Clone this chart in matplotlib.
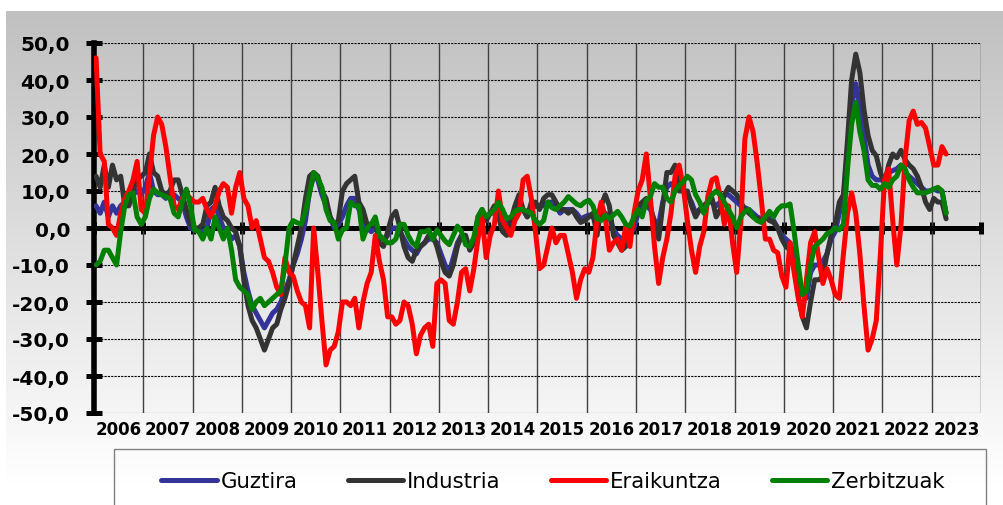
import numpy as np
import matplotlib
matplotlib.use("Agg")
import matplotlib.pyplot as plt
from matplotlib.colors import LinearSegmentedColormap
from matplotlib.patches import Rectangle

# monthly series, Jan 2006 .. Apr 2023 (one row per year)
guztira = [
    6, 4, 7, 3, 6, 4, 6, 7, 8, 9, 10, 9,
    11, 15, 10, 9, 9, 8, 9, 9, 8, 7, 3, 0,
    -0.5, -0.5, -1, 0, 5, 6, 3, 0, -1, -3, -2, -5,
    -12, -17, -21, -23, -25, -27, -25, -23, -22, -20, -17, -14,
    -10, -7, -3, 2, 10, 14, 13, 9, 6, 3, 0, 1,
    3, 6, 8, 8, 5, 3, 0, -1, 0, -2, -3, -2,
    0, 0, -1, -3, -5, -6, -7, -5, -4, -3, -3, -4,
    -7, -10, -12, -8, -4, -2, -3, -5, -3, 2, 4, 3,
    4, 4, 5, 3, 1, 2, 4, 6, 5, 3, 5, 6,
    6, 6, 7, 7, 6, 4, 5, 5, 5, 4, 2.5, 3,
    3.5, 3, 1, 4, 4, 3, -0.5, -2, -3, -3, -2, 0,
    4, 5.5, 6, 5, 2, 1, 7, 11, 12, 11, 12, 10,
    9, 7, 4, 5, 6, 7, 7, 6, 7, 9, 9, 8,
    7, 6, 5.5, 5, 4, 3, 2.5, 3, 3, 2, 0, -2,
    -3, -4, -8, -14, -18, -19, -12, -10, -10, -9, -7, -3,
    -1, 4, 8, 21, 33, 39, 33, 25, 17, 14, 13, 13,
    13, 15, 15.5, 16, 17, 15, 14, 13, 12, 11, 10, 10,
    10.5, 10, 10, 4,
]
industria = [
    14, 11, 17, 11, 17, 13, 14, 6, 6, 10, 13, 14,
    15, 20, 15, 14, 10, 9, 10, 13, 13, 9, 5, 1,
    0, 0, 1, 6, 7, 11, 6, 3, 2, 0, -1, -5,
    -14, -21, -25, -27, -30, -33, -30, -27, -26, -22, -19, -15,
    -10, -5, 0, 8, 14, 15, 14, 10, 8, 3, 1, 2,
    10, 12, 13, 14, 7, 5, 1, 1, 2, -4, -5, -1,
    3, 4.5, 0, -5, -8, -9, -6, -5, -4, -2, -2, -5,
    -9, -12, -13, -10, -5, -2, -2, -6, -4, 3, 5, 2,
    4, 6, 3, -1, -2, 2, 6, 9, 5, 3, 7, 7,
    5, 8, 9, 9, 7, 5, 5, 4, 5, 3, 1.5, 2,
    3, 4, -2, 6, 9, 6, -2, -4, -6, -5, -3, 2,
    6, 7, 8, 6, 1, -3, 6, 15, 15, 17, 10, 10,
    10, 6, 3, 5, 6, 7, 8, 3, 5, 9, 11, 10,
    9, 7, 5, 4, 3, 2.5, 2, 3, 2, 1.5, 0, -3,
    -5, -6, -11, -18, -24, -27, -20, -14, -14, -13, -7, -2,
    1, 7, 9, 24, 40, 47, 42, 32, 25, 21, 19.5, 15,
    12, 17, 20, 19, 21, 18.5, 17, 16, 14, 11, 7, 5,
    8, 7, 7, 2.5,
]
eraikuntza = [
    46, 20, 18, 1, 0, -2, 4, 8, 10, 13, 18, 5,
    4, 14, 25, 30, 28, 22, 14, 6, 5, 8, 9, 8,
    7, 7, 8, 5, 3, 6, 10, 12, 11, 4, 11, 15,
    8, 6, 0, 2, -3, -8, -9, -12, -16, -18, -8, -12,
    -13, -17, -20, -21, -27, 0, -12, -25, -37, -33, -32, -28,
    -20, -20, -21, -19, -27, -20, -15, -12, -2, -9, -14, -24,
    -24, -26, -25, -20, -21, -26, -34, -29, -27, -26, -32, -15,
    -14, -15, -25, -26, -20, -12, -11, -17, -11, -3, 3, -8,
    -2, 1, 10, 2, 0, -2, 2, 4, 13, 14, 8, -1,
    -11, -10, -5, 0, -4, -2, -2, -7, -12, -19, -14, -11,
    -12, -8, 2, 7, 3, -6, -4, -3, -6, 0.5, -5, 4,
    10, 13, 20, 8, -5, -15, -8, -3, 4, 14, 17, 11,
    2, -6, -12, -5, -1, 8.6, 13, 13.6, 8.6, 1, 6, -4,
    -12, 1.4, 24, 30, 26, 17.6, 7.7, -3, -3, -6, -6.7, -13,
    -16, -4, -12, -19, -24, -14, -4, -1, -8, -15, -11, -14,
    -18, -19, -7, 4, 9.5, 4, -7, -21, -33, -30, -25, -7,
    13, 16, 2, -10, 0.5, 18.5, 29, 31.6, 28, 28.5, 27, 22,
    17, 17, 22, 20,
]
zerbitzuak = [
    -10, -9, -6, -6, -8, -10, -1, 6, 9, 9.5, 3, 1,
    3, 8, 10.5, 9.5, 9, 8.5, 8, 4, 3, 7, 10.5, 6,
    -0.5, -1, -3, 0, -3, 3, 0, -3, 0, -6, -14, -16,
    -17, -18, -22, -20, -19, -21, -20, -19, -18, -17, -10, 0,
    2, 1.4, 1, 4.6, 9.5, 15, 13.5, 11, 5, 2, 1.5, -3,
    -0.5, 0, 7, 6, 6, -3, 0, 1, 3, -2, -3, -4,
    -4, -3, 1, 1, -2, -4, -5, -1, -1, -0.5, -3, -0.5,
    -2, -3.5, -4.5, -2, 0.5, -1, -4.5, -5, -2.5, 3, 5, 3,
    4, 5, 7, 5, 2.5, 3, 4.5, 5, 5, 4.5, 4, 2,
    1, 2, 7, 5.5, 5, 6, 7, 8.5, 7.5, 6.5, 6, 7,
    7.5, 6, 2.5, 2, 3.5, 2.5, 3.5, 4.5, 3, 1, 0.5, 3,
    5, 3, 7.5, 8.5, 12, 11, 11, 8, 7, 10, 11.5, 12.5,
    14, 13, 9, 7, 4, 7, 9, 10, 9, 7, 5, 3,
    0, 3, 4.5, 5, 3, 2, 1.5, 3, 4.5, 3, 5, 6,
    6, 6.5, -1, -10, -18, -17, -10, -5, -4, -3, -1.5, -1,
    0, -0.5, 1, 16, 28, 34, 26, 21, 13, 11.5, 11.5, 10.5,
    12, 11, 13, 14, 17, 16, 13, 11, 9.5, 9.5, 9.5, 10,
    10.5, 11, 10, 4,
]
years = list(range(2006, 2024))
series_names = ["Guztira", "Industria", "Eraikuntza", "Zerbitzuak"]
series_colors = ["#333399", "#333333", "#ff0000", "#008000"]

W, H = 1004, 506
fig = plt.figure(figsize=(W / 100, H / 100), dpi=100)
fig.patch.set_facecolor("white")

# grey-to-white backdrop
bg = fig.add_axes([6 / W, 1 - 485 / H, 998 / W, (485 - 12) / H])
bg.imshow(np.linspace(0, 1, 256).reshape(-1, 1), aspect="auto",
          cmap=LinearSegmentedColormap.from_list("bg", ["#c0c0c0", "#ffffff"]))
bg.axis("off")

ax = fig.add_axes([94 / W, 1 - 414 / H, 887 / W, 370 / H])
ax.patch.set_alpha(0)

months = np.arange(len(guztira)) + 0.5
lines = []
for i, (vals, name, col) in enumerate(zip([guztira, industria, eraikuntza, zerbitzuak],
                                           series_names, series_colors)):
    ln, = ax.plot(months, vals, color=col, lw=3.6, label=name,
                  solid_joinstyle="round", solid_capstyle="round", zorder=3 + i * 0.1)
    lines.append(ln)

n_years = len(years)
year_edges = np.arange(0, 12 * n_years + 1, 12)
ax.set_xlim(0, 12 * n_years)
ax.set_ylim(-50, 50)

yt = np.arange(-50, 51, 10)
ax.set_yticks(yt, [f"{v:.1f}".replace(".", ",") for v in yt],
              fontsize=14.5, fontweight="bold")
ax.tick_params(axis="y", direction="inout", length=11.5, width=3.6, pad=11.5)

ax.set_xticks(year_edges)
ax.tick_params(axis="x", direction="inout", length=8.5, width=3.6, labelbottom=False)

for s in ["top", "right"]:
    ax.spines[s].set_visible(False)
ax.spines["left"].set_linewidth(4)
ax.spines["bottom"].set_position(("data", 0))
ax.spines["bottom"].set_linewidth(3.6)

# year separators and dotted value grid
ax.vlines(year_edges[1:], -50, 50, colors="#404040", lw=1.0, zorder=1)
ax.grid(axis="y", color="black", lw=0.8, ls=(0, (2, 1)), zorder=1)
ax.set_axisbelow(True)

sec = ax.secondary_xaxis("bottom")
sec.set_xticks(year_edges[:-1] + 6, [str(y) for y in years],
               fontsize=12, fontweight="bold")
sec.tick_params(length=0, pad=5)
sec.spines["bottom"].set_visible(False)

# legend box, open at the bottom edge of the image
fig.patches.append(Rectangle((114 / W, -0.2), 872 / W, 0.2 + 1 - 450 / H,
                             transform=fig.transFigure, fill=False,
                             edgecolor="#808080", lw=1.0, zorder=1))
fig.legend(lines, series_names, loc="center", bbox_to_anchor=(553 / W, 1 - 482 / H),
           ncol=4, frameon=False, fontsize=15.3, handlelength=2.6,
           handletextpad=0.19, columnspacing=2.36, borderpad=0)

fig.savefig("out.png", dpi=100)
